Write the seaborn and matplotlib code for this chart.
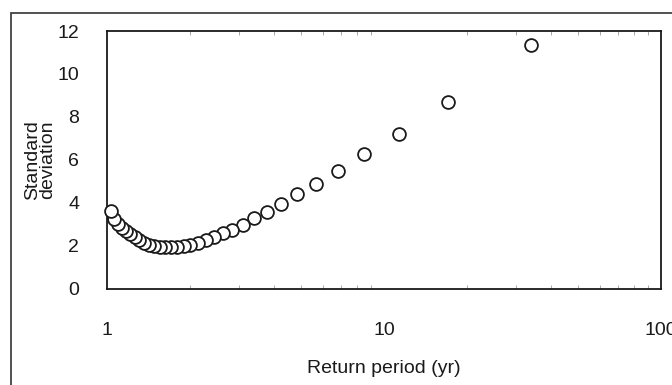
import matplotlib
matplotlib.use("Agg")
import matplotlib.pyplot as plt
import seaborn as sns
import pandas as pd
from matplotlib.patches import Rectangle
from matplotlib.ticker import FixedLocator, LogLocator, NullFormatter

# Data
return_period = [34.0, 17.0, 11.33, 8.5, 6.8, 5.67, 4.86, 4.25, 3.78, 3.4,
                 3.09, 2.83, 2.62, 2.43, 2.27, 2.13, 2.0, 1.89, 1.79, 1.7,
                 1.62, 1.55, 1.48, 1.42, 1.36, 1.31, 1.26, 1.21, 1.17, 1.13,
                 1.10, 1.06, 1.03]
std_dev = [11.35, 8.68, 7.19, 6.25, 5.48, 4.86, 4.39, 3.92, 3.58, 3.27,
           2.96, 2.73, 2.57, 2.38, 2.25, 2.12, 2.04, 1.98, 1.94, 1.92,
           1.92, 1.94, 1.98, 2.04, 2.13, 2.25, 2.38, 2.52, 2.68, 2.84,
           3.02, 3.25, 3.60]
x_ticks = [1, 10, 100]
x_tick_labels = ["1", "10", "100"]
y_ticks = [0, 2, 4, 6, 8, 10, 12]

df = pd.DataFrame({"Return period (yr)": return_period, "Standard deviation": std_dev})

sns.set_theme(style="white")
plt.rcParams["font.family"] = ["Liberation Sans", "DejaVu Sans"]

fig = plt.figure(figsize=(6.72, 3.85), dpi=100)
ax = fig.add_axes([107 / 672, 1 - 288.5 / 385, (661 - 107) / 672, (288.5 - 31) / 385])

sns.scatterplot(data=df, x="Return period (yr)", y="Standard deviation", ax=ax,
                s=85, facecolor="white", edgecolor="#1a1a1a", linewidth=1.3,
                zorder=3, clip_on=False)

ax.set_xscale("log")
ax.set_xlim(1, 100)
ax.set_ylim(0, 12)
ax.xaxis.set_major_locator(FixedLocator(x_ticks))
ax.set_xticklabels(x_tick_labels)
ax.xaxis.set_minor_locator(LogLocator(base=10, subs=range(2, 10)))
ax.xaxis.set_minor_formatter(NullFormatter())
ax.set_yticks(y_ticks)
ax.set_yticklabels([str(v) for v in y_ticks])

for sp in ax.spines.values():
    sp.set_color("#1a1a1a")
    sp.set_linewidth(1.3)

ax.tick_params(axis="y", which="major", direction="out", length=4, width=0.8,
               color="#999999", pad=16, labelsize=14, labelcolor="#1a1a1a")
ax.tick_params(axis="x", which="major", direction="out", length=4, width=0.8,
               color="#999999", pad=20, labelsize=14, labelcolor="#1a1a1a")
ax.tick_params(axis="x", which="minor", direction="in", length=3, width=0.6,
               color="#999999", top=True, bottom=True)

ax.set_xlabel("Return period (yr)", fontsize=14, color="#1a1a1a", labelpad=15)
ax.set_ylabel("")
fig.text(40 / 672, 1 - 160 / 385, "Standard\ndeviation", rotation=90,
         ha="center", va="center", fontsize=14, color="#1a1a1a",
         linespacing=0.85)

# outer frame (clipped at right and bottom like the reference)
fig.patches.append(Rectangle((11 / 672, -0.05), 1.1, 1 - 13 / 385 + 0.05,
                             transform=fig.transFigure, fill=False,
                             edgecolor="#333333", linewidth=1.2))

fig.savefig("out.png", dpi=100)
